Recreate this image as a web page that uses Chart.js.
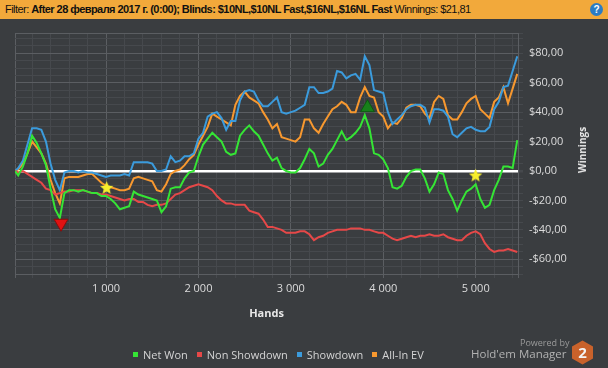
<!DOCTYPE html>
<html>
<head>
<meta charset="utf-8">
<script src="https://cdn.jsdelivr.net/npm/chart.js@4.4.1/dist/chart.umd.min.js"></script>
<style>
  html, body { margin: 0; padding: 0; background: #3a3d40; width: 608px; height: 368px; overflow: hidden; }
  #wrap { position: relative; width: 608px; height: 368px; font-family: "Open Sans", sans-serif; }
  #chart { position: absolute; left: 0; top: 0; }
  .topbar { position: absolute; left: 0; top: 0; width: 608px; height: 19px; background: #f2a93b; color: #111;
            font-family: "Liberation Sans", Arial, sans-serif; font-size: 11px; line-height: 19px; padding-left: 5px;
            letter-spacing: -0.55px; box-sizing: border-box; white-space: nowrap; }
  .topbar b { font-weight: bold; }
  .help { position: absolute; left: 590px; top: 3px; width: 13px; height: 13px; border-radius: 50%; background: #2b7cc4;
          color: #fff; font: bold 10px "Liberation Sans", Arial, sans-serif; text-align: center; line-height: 13px; }
  .ytitle { position: absolute; left: 582px; top: 150px; transform: translate(-50%, -50%) rotate(-90deg);
            color: #e6e6e6; font-weight: bold; font-size: 10px; white-space: nowrap; }
  .legend { position: absolute; left: 133px; top: 346px; height: 16px; display: flex; align-items: center;
            color: #d4d4d4; font-size: 11px; }
  .legend span.item { display: flex; align-items: center; margin-right: 9px; }
  .legend i { display: inline-block; width: 5px; height: 5px; margin-right: 5px; }
  .powered { position: absolute; left: 520px; top: 336px; color: #9a9a9a; font-size: 9px; }
  .hem { position: absolute; left: 471px; top: 346px; color: #b2b2b2; font-size: 11.5px; }
  .logo { position: absolute; left: 571px; top: 340px; }
</style>
</head>
<body>
<div id="wrap">
  <canvas id="chart" width="608" height="368"></canvas>
  <div class="topbar">Filter: <b>After 28 февраля 2017 г. (0:00); Blinds: $10NL,$10NL Fast,$16NL,$16NL Fast</b> Winnings: $21,81</div>
  <div class="help">?</div>
  <div class="ytitle">Winnings</div>
  <div class="legend" id="legend"></div>
  <div class="powered">Powered by</div>
  <div class="hem">Hold'em Manager</div>
  <svg class="logo" width="23" height="25" viewBox="0 0 23 25">
    <polygon points="11.5,0.5 22,6.5 22,18.5 11.5,24.5 1,18.5 1,6.5" fill="#c9622b"/>
    <text x="11.5" y="18" text-anchor="middle" font-family="Open Sans, sans-serif" font-weight="bold" font-size="15" fill="#f4f4f4">2</text>
  </svg>
</div>
<script>
// ============================================================
// DATA
// ============================================================

const hands = [
  15, 50, 100, 150, 200, 250, 300, 350, 400, 450,
  500, 550, 600, 650, 700, 750, 800, 850, 900, 950,
  1000, 1050, 1100, 1150, 1200, 1250, 1300, 1350, 1400, 1450,
  1500, 1550, 1600, 1650, 1700, 1750, 1800, 1850, 1900, 1950,
  2000, 2050, 2100, 2150, 2200, 2250, 2300, 2350, 2400, 2450,
  2500, 2550, 2600, 2650, 2700, 2750, 2800, 2850, 2900, 2950,
  3000, 3050, 3100, 3150, 3200, 3250, 3300, 3350, 3400, 3450,
  3500, 3550, 3600, 3650, 3700, 3750, 3800, 3850, 3900, 3950,
  4000, 4050, 4100, 4150, 4200, 4250, 4300, 4350, 4400, 4450,
  4500, 4550, 4600, 4650, 4700, 4750, 4800, 4850, 4900, 4950,
  5000, 5050, 5100, 5150, 5200, 5250, 5300, 5350, 5400, 5450
];

const netWon = [
  0, -3, 3, 12, 24, 19, 12, 4, -12, -26,
  -32, -15, -13, -13, -14, -13, -14, -15, -15, -17,
  -17, -19, -22, -26, -25, -24, -14, -16, -17, -18,
  -19, -20, -28, -24, -12, -11, -11, -5, -1, 0,
  10, 18, 22, 26, 23, 20, 13, 11, 12, 24,
  28, 31, 27, 24, 18, 12, 7, 9, 2, 0,
  -1, -1, 2, 8, 15, 12, 3, 5, 11, 15,
  21, 27, 21, 23, 26, 30, 38, 29, 12, 11,
  8, 2, -11, -12, -10, -4, 0, 1, 1, -5,
  -14, -9, -1, -2, -13, -19, -27, -20, -14, -12,
  -9, -19, -25, -23, -13, -6, 3, 3, 2, 21
];

const nonShowdown = [
  0, -1, 0, -2, -4, -6, -8, -12, -13, -16,
  -15, -14, -14, -13, -13, -13, -14, -15, -15, -16,
  -16, -17, -18, -19, -20, -19, -19, -21, -21, -23,
  -24, -23, -23, -22, -19, -16, -15, -13, -11, -10,
  -9, -10, -11, -13, -17, -20, -22, -22, -23, -23,
  -23, -27, -28, -29, -33, -38, -38, -39, -40, -42,
  -42, -42, -41, -41, -43, -47, -45, -44, -42, -41,
  -40, -40, -40, -39, -39, -39, -40, -40, -41, -42,
  -42, -44, -46, -47, -46, -45, -44, -45, -44, -44,
  -43, -44, -44, -43, -45, -46, -47, -47, -44, -42,
  -41, -43, -49, -53, -55, -54, -54, -53, -54, -55
];

const showdown = [
  0, 2, 7, 18, 29, 29, 28, 20, 5, -6,
  -13, -1, 0, 0, -1, 0, -1, -1, -2, -3,
  -4, -3, -3, -3, -2, -3, 6, 6, 6, 6,
  5, 0, 0, 1, 10, 6, 7, 10, 10, 12,
  22, 26, 37, 39, 40, 36, 28, 34, 34, 48,
  54, 55, 54, 48, 44, 44, 47, 50, 40, 39,
  40, 41, 43, 45, 57, 57, 53, 53, 54, 56,
  68, 67, 63, 65, 66, 62, 78, 72, 55, 54,
  53, 40, 32, 35, 38, 42, 44, 45, 45, 43,
  33, 42, 42, 41, 37, 25, 23, 26, 29, 30,
  28, 27, 27, 30, 42, 47, 57, 58, 68, 78
];

const allInEV = [
  0, 1, 5, 12, 20, 16, 12, 5, -6, -15,
  -22, -5, -4, -4, -4, -3, -2, -2, -5, -8,
  -10, -11, -12, -13, -13, -12, -5, -4, -5, -6,
  -7, -13, -14, -9, -2, 0, 1, 4, 8, 11,
  18, 24, 30, 39, 37, 35, 33, 31, 45, 51,
  54, 50, 48, 46, 40, 35, 29, 32, 23, 22,
  21, 20, 23, 35, 35, 29, 26, 32, 37, 42,
  44, 47, 45, 40, 40, 50, 57, 51, 50, 40,
  37, 29, 33, 32, 36, 43, 45, 45, 44, 39,
  36, 47, 51, 49, 38, 35, 35, 40, 46, 49,
  51, 42, 39, 36, 47, 50, 57, 46, 56, 66
];

// markers: low / high of Net Won, and the two stars
const lowMarkerHands = [513];
const lowMarkerValues = [-35.5];
const highMarkerHands = [3829];
const highMarkerValues = [43];
const starHands = [1007, 4999];
const starValues = [-11.1, -2.7];

const xMin = 15, xMax = 5458;
const xMinorStep = 200, xLabelStep = 1000;
const yMin = -70, yMax = 93.8;
const yMinorStep = 5, yLabelStep = 20;

const seriesNames = ['Net Won', 'Non Showdown', 'Showdown', 'All-In EV'];
const seriesColors = ['#35e535', '#e64848', '#3b9bdc', '#f7982f'];

// ============================================================
// CHART
// ============================================================

const gridMinor = '#46494d';
const gridMajor = '#5b5e62';
const tickColor = '#dcdcdc';

function makeStar(size, color) {
    const c = document.createElement('canvas');
    c.width = size; c.height = size;
    const g = c.getContext('2d');
    const cx = size / 2, cy = size / 2 + 0.8, R = size / 2 - 0.5, r = R * 0.45;
    g.beginPath();
    for (let i = 0; i < 10; i++) {
        const a = -Math.PI / 2 + i * Math.PI / 5;
        const rr = i % 2 ? r : R;
        g.lineTo(cx + rr * Math.cos(a), cy + rr * Math.sin(a));
    }
    g.closePath();
    g.fillStyle = color;
    g.fill();
    return c;
}

function money(v) {
    const s = '$' + Math.abs(v).toFixed(2).replace('.', ',');
    return v < 0 ? '-' + s : s;
}

function thousands(v) {
    return String(v).replace(/\B(?=(\d{3})+(?!\d))/g, ' ');
}

function pts(xs, ys) {
    return xs.map((h, i) => ({ x: h, y: ys[i] }));
}

const seriesData = [netWon, nonShowdown, showdown, allInEV];

const datasets = seriesData.map((vals, i) => ({
    label: seriesNames[i],
    data: pts(hands, vals),
    borderColor: seriesColors[i],
    borderWidth: 2,
    pointRadius: 0,
    tension: 0,
    fill: false
}));

datasets.push({
    label: 'low',
    data: pts(lowMarkerHands, lowMarkerValues),
    showLine: false,
    pointStyle: 'triangle',
    rotation: 180,
    pointRadius: 8,
    backgroundColor: '#e01212',
    borderColor: '#8a0c0c',
    borderWidth: 1,
    order: -1
});
datasets.push({
    label: 'high',
    data: pts(highMarkerHands, highMarkerValues),
    showLine: false,
    pointStyle: 'triangle',
    pointRadius: 8,
    backgroundColor: '#17801a',
    borderColor: '#0d5a10',
    borderWidth: 1,
    order: -1
});
datasets.push({
    label: 'stars',
    data: pts(starHands, starValues),
    showLine: false,
    pointStyle: makeStar(15, '#f7ee2c'),
    pointRadius: 7,
    order: -1
});

Chart.defaults.font.family = '"Open Sans", sans-serif';
Chart.defaults.font.size = 11;

new Chart(document.getElementById('chart').getContext('2d'), {
    type: 'line',
    data: { datasets: datasets },
    options: {
        responsive: false,
        animation: false,
        events: [],
        layout: { padding: { top: 33, left: 15, right: 0, bottom: 0 } },
        plugins: { legend: { display: false }, tooltip: { enabled: false } },
        scales: {
            x: {
                type: 'linear',
                min: xMin,
                max: xMax,
                afterBuildTicks: (axis) => {
                    const t = [xMin];
                    for (let v = xMinorStep; v < xMax; v += xMinorStep) t.push(v);
                    t.push(xMax);
                    axis.ticks = t.map(v => ({ value: v }));
                },
                afterFit: (axis) => { axis.height = 94; },
                ticks: {
                    autoSkip: false,
                    maxRotation: 0,
                    padding: 4,
                    color: tickColor,
                    callback: (v) => (v % xLabelStep === 0 ? thousands(v) : '')
                },
                grid: {
                    tickLength: 4,
                    color: (ctx) => (ctx.tick && (ctx.tick.value % xLabelStep === 0 || ctx.tick.value === xMin || ctx.tick.value === xMax) ? gridMajor : gridMinor)
                },
                border: { color: gridMajor },
                title: {
                    display: true,
                    text: 'Hands',
                    color: '#e8e8e8',
                    font: { weight: 'bold', size: 11 },
                    padding: { top: 0, bottom: 48 }
                }
            },
            y: {
                position: 'right',
                min: yMin,
                max: yMax,
                afterBuildTicks: (axis) => {
                    const t = [];
                    for (let v = yMin; v < yMax; v += yMinorStep) t.push(v);
                    t.push(yMax);
                    axis.ticks = t.map(v => ({ value: v }));
                },
                afterFit: (axis) => { axis.width = 90; },
                ticks: {
                    autoSkip: false,
                    padding: 6,
                    color: tickColor,
                    callback: (v) => (v % yLabelStep === 0 ? money(v) : '')
                },
                grid: {
                    tickLength: 5,
                    color: (ctx) => {
                        const v = ctx.tick ? ctx.tick.value : 1;
                        if (v === 0) return '#ffffff';
                        return (v % yLabelStep === 0 || v === yMax) ? gridMajor : gridMinor;
                    },
                    lineWidth: (ctx) => (ctx.tick && ctx.tick.value === 0 ? 2.5 : 1),
                    tickColor: gridMinor
                },
                border: { color: gridMajor }
            }
        }
    }
});

// legend
const legendEl = document.getElementById('legend');
seriesNames.forEach((name, i) => {
    const item = document.createElement('span');
    item.className = 'item';
    item.innerHTML = `<i style="background:${seriesColors[i]}"></i>${name}`;
    legendEl.appendChild(item);
});
</script>
</body>
</html>
